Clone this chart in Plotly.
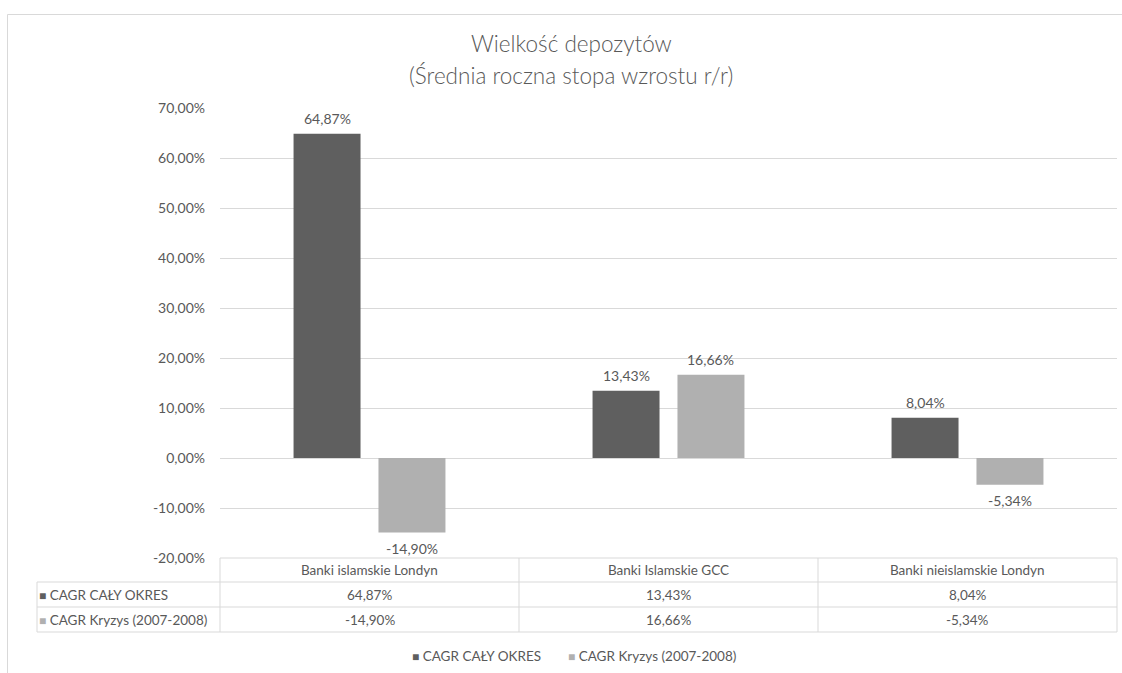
import plotly.graph_objects as go

categories = ["Banki islamskie Londyn", "Banki Islamskie GCC", "Banki nieislamskie Londyn"]
series_names = ["CAGR CAŁY OKRES", "CAGR Kryzys (2007-2008)"]
cagr_caly = [0.6487, 0.1343, 0.0804]
cagr_kryzys = [-0.1490, 0.1666, -0.0534]
y_ticks = [-0.2, -0.1, 0.0, 0.1, 0.2, 0.3, 0.4, 0.5, 0.6, 0.7]
title_lines = ["Wielkość depozytów", "(Średnia roczna stopa wzrostu r/r)"]

colors = ["#5f5f5f", "#b0b0b0"]
TXT = "#595959"
GRID = "#d9d9d9"
FONT = "Lato"

W, H = 1122, 673
L, R, T, B = 220, 5, 108, 115
PW, PH = W - L - R, H - T - B

BAR_W = 0.224      # bar width in category units
SLOT = 0.284       # distance between bar centres within a group
centre_off = [-SLOT / 2, SLOT / 2]


def pct(v):
    return f"{v * 100:.2f}%".replace(".", ",")


def px_x(x):
    return (x - L) / PW


def px_y(y):
    return (H - B - y) / PH


fig = go.Figure()
ann = []
lf = dict(family=FONT, size=14, color=TXT)
xs = list(range(len(categories)))
for name, vals, col, co in zip(series_names, [cagr_caly, cagr_kryzys], colors, centre_off):
    fig.add_trace(go.Bar(
        x=xs, y=vals, name=name,
        width=BAR_W, offset=co - BAR_W / 2,
        marker=dict(color=col, line=dict(width=0)),
        showlegend=False,
    ))
    for x, v in zip(xs, vals):
        ann.append(dict(x=x + co, xref="x", y=v, yref="y", text=pct(v), showarrow=False,
                        font=lf, xanchor="center", yanchor="middle",
                        yshift=15 if v >= 0 else -16))

shapes = []
line = dict(color=GRID, width=1)
x_left = px_x(37)
y_hdr = px_y(582)
y_r1 = px_y(607)
y_r2 = px_y(632)
shapes.append(dict(type="line", xref="paper", yref="paper", x0=0, x1=1, y0=0, y1=0, line=line))
for yy in (y_hdr, y_r1, y_r2):
    shapes.append(dict(type="line", xref="paper", yref="paper", x0=x_left, x1=1, y0=yy, y1=yy, line=line))
n = len(categories)
for i in range(n + 1):
    xx = i / n
    shapes.append(dict(type="line", xref="paper", yref="paper", x0=xx, x1=xx, y0=0, y1=y_r2, line=line))
shapes.append(dict(type="line", xref="paper", yref="paper", x0=x_left, x1=x_left, y0=y_hdr, y1=y_r2, line=line))
shapes.append(dict(type="rect", xref="paper", yref="paper",
                   x0=px_x(7.5), x1=px_x(1135), y0=px_y(690), y1=px_y(14.5),
                   line=dict(color=GRID, width=1), fillcolor="rgba(0,0,0,0)", layer="below"))

tf = dict(family=FONT, size=13.5, color=TXT)
for i, c in enumerate(categories):
    ann.append(dict(x=i, xref="x", y=px_y(570), yref="paper", text=c, showarrow=False,
                    font=tf, xanchor="center", yanchor="middle"))
    ann.append(dict(x=i, xref="x", y=px_y(594.5), yref="paper", text=pct(cagr_caly[i]), showarrow=False,
                    font=tf, xanchor="center", yanchor="middle"))
    ann.append(dict(x=i, xref="x", y=px_y(619.5), yref="paper", text=pct(cagr_kryzys[i]), showarrow=False,
                    font=tf, xanchor="center", yanchor="middle"))
for j, (name, col) in enumerate(zip(series_names, colors)):
    ann.append(dict(x=px_x(37), xref="paper", y=px_y(594.5 + 25 * j), yref="paper",
                    text=f"<span style='color:{col};font-size:12px'>■</span> {name}", showarrow=False,
                    font=tf, xanchor="left", yanchor="middle"))
# legend (drawn as annotations to match the reference's compact markers)
for name, col, lx in zip(series_names, colors, [410, 566]):
    ann.append(dict(x=px_x(lx), xref="paper", y=px_y(656), yref="paper",
                    text=f"<span style='color:{col};font-size:12px'>■</span> {name}", showarrow=False,
                    font=tf, xanchor="left", yanchor="middle"))
for line_txt, yy in zip(title_lines, [44, 75]):
    ann.append(dict(x=px_x(571), xref="paper", y=px_y(yy), yref="paper", text=line_txt,
                    showarrow=False, xanchor="center", yanchor="middle",
                    font=dict(family=FONT, size=22.5, color=TXT, weight=300)))

fig.update_layout(
    width=W, height=H,
    margin=dict(l=L, r=R, t=T, b=B, autoexpand=False),
    paper_bgcolor="white", plot_bgcolor="white",
    barmode="group",
    font=dict(family=FONT, size=13, color=TXT),
    xaxis=dict(range=[-0.5, n - 0.5], showticklabels=False, showgrid=False,
               zeroline=False, showline=False, fixedrange=True),
    yaxis=dict(range=[y_ticks[0], y_ticks[-1]], tickvals=y_ticks,
               ticktext=[pct(v) for v in y_ticks], showgrid=True, gridcolor=GRID, gridwidth=1,
               zeroline=True, zerolinecolor=GRID, zerolinewidth=1, showline=False,
               ticklabelstandoff=14, tickfont=dict(family=FONT, size=14, color=TXT),
               fixedrange=True),
    showlegend=False,
    shapes=shapes, annotations=ann,
)

fig.write_html("out.html", config={"displayModeBar": False},
               post_script="document.body.style.margin='0';")
